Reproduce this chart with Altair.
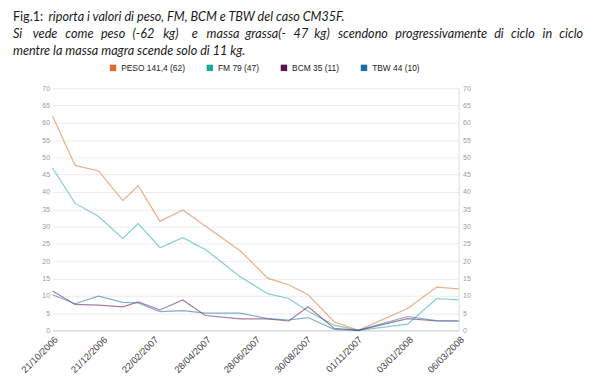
import altair as alt
import pandas as pd

# ---- data ----
dates = ["2006-10-21", "2006-11-18", "2006-12-17", "2007-01-16", "2007-02-04",
         "2007-03-03", "2007-03-31", "2007-04-28", "2007-06-10", "2007-07-14",
         "2007-08-09", "2007-09-02", "2007-10-04", "2007-11-03", "2008-01-03",
         "2008-02-08", "2008-03-06"]
peso = [62, 47.7, 46.1, 37.5, 41.8, 31.5, 34.8, 30.2, 23.0, 15.1, 13.2, 10.3, 2.5, 0, 6.3, 12.5, 12.0]
fm = [47, 36.7, 32.9, 26.6, 30.9, 23.9, 26.8, 23.4, 15.5, 10.6, 9.2, 5.5, 1.5, 0, 1.8, 9.2, 8.8]
bcm = [11.4, 7.5, 7.3, 6.8, 8.2, 5.9, 8.8, 4.3, 3.3, 3.3, 2.7, 6.8, 0.6, 0, 3.4, 2.7, 2.7]
tbw = [10.3, 7.7, 9.9, 8.1, 7.9, 5.4, 5.7, 5.0, 5.0, 3.4, 3.0, 3.7, 0.3, 0, 4.0, 2.8, 2.7]

series_names = ["PESO 141,4 (62)", "FM 79 (47)", "BCM 35 (11)", "TBW 44 (10)"]
series_colors = ["#DD6E27", "#1BA99C", "#5E1150", "#1B6BAA"]

tick_dates = [(2006, 10, 21), (2006, 12, 21), (2007, 2, 22), (2007, 4, 28), (2007, 6, 28),
              (2007, 8, 30), (2007, 11, 1), (2008, 1, 3), (2008, 3, 6)]

title_line1_a = "Fig.1:"
title_line1_b = "riporta i valori di peso, FM, BCM e TBW del caso CM35F."
# second caption line is justified in the reference: laid out word by word
title_line2_words = ["Si", "vede", "come", "peso", "(-62", "kg)", "e", "massa", "grassa(-",
                     "47", "kg)", "scendono", "progressivamente", "di", "ciclo", "in", "ciclo"]
title_line2_x = [13, 33, 66, 102, 134, 165, 194, 209, 248, 297, 318, 342, 400, 500, 517, 549, 590]
title_line3 = "mentre la massa magra scende solo di 11 kg."

# ---- build table ----
rows = []
for name, vals in zip(series_names, [peso, fm, bcm, tbw]):
    for d, v in zip(dates, vals):
        rows.append({"date": d, "value": v, "series": name})
df = pd.DataFrame(rows)

xscale = alt.Scale(type="utc", domain=[alt.DateTime(year=2006, month=10, date=21, utc=True),
                                        alt.DateTime(year=2008, month=3, date=6, utc=True)])
yscale = alt.Scale(domain=[0, 70], nice=False)

xaxis = alt.Axis(
    values=[alt.DateTime(year=y, month=m, date=d, utc=True) for (y, m, d) in tick_dates],
    format="%d/%m/%Y", labelAngle=-45, labelAlign="right", labelBaseline="top",
    labelFontSize=9.5, labelColor="#444444", labelFont="Liberation Sans",
    ticks=False, grid=False, domain=True, domainColor="#cccccc", title=None,
    labelPadding=4, labelOverlap=False,
)

lines = alt.Chart(df).mark_line(strokeWidth=1.2, opacity=0.55).encode(
    x=alt.X("date:T", scale=xscale, axis=xaxis),
    y=alt.Y("value:Q", scale=yscale,
            axis=alt.Axis(values=list(range(0, 75, 5)), orient="left", grid=True,
                          gridColor="#ececec", domain=False, ticks=False,
                          labelFontSize=7, labelColor="#999999", labelPadding=3,
                          labelFont="Liberation Sans", title=None)),
    color=alt.Color("series:N", sort=series_names,
                    scale=alt.Scale(domain=series_names, range=series_colors),
                    legend=alt.Legend(orient="none", legendX=57, legendY=-25,
                                      direction="horizontal", columns=4, title=None,
                                      symbolType="square", symbolSize=9,
                                      symbolOpacity=1, symbolStrokeWidth=3.5,
                                      labelFontSize=8.5, labelColor="#222222",
                                      labelFont="Liberation Sans", labelOffset=4,
                                      columnPadding=15)),
)

right_axis = alt.Chart(df).mark_line(opacity=0).encode(
    x=alt.X("date:T", scale=xscale),
    y=alt.Y("value:Q", scale=yscale,
            axis=alt.Axis(values=list(range(0, 75, 5)), orient="right", grid=False,
                          domain=True, domainColor="#dddddd", ticks=False,
                          labelFontSize=7, labelColor="#999999", labelPadding=4,
                          labelFont="Liberation Sans", title=None)),
    detail="series:N",
)

PLOT_LEFT = 53  # page x of the plot's left edge


def txt(s, x, y, italic=True, align="left"):
    return alt.Chart(pd.DataFrame({"t": [s]})).mark_text(
        font="Lato", fontSize=12.8, fontStyle="italic" if italic else "normal",
        color="#1a1a1a", align=align, baseline="alphabetic",
    ).encode(x=alt.value(x), y=alt.value(y), text="t:N")


title_layers = [
    txt(title_line1_a, -40, -68, italic=False),
    txt(title_line1_b, -4, -68),
    txt(title_line3, -40, -34),
]
n_words = len(title_line2_words)
for i, (w, xp) in enumerate(zip(title_line2_words, title_line2_x)):
    title_layers.append(txt(w, xp - PLOT_LEFT, -51,
                            align="right" if i == n_words - 1 else "left"))

chart = alt.layer(lines, right_axis, *title_layers).resolve_axis(y="independent").properties(
    width=411, height=245,
    padding={"left": 45, "top": 79, "right": 135, "bottom": 45},
    autosize=alt.AutoSizeParams(type="none"),
).configure_view(stroke=None)

chart.save("out.html", embed_options={"renderer": "svg", "actions": False})
